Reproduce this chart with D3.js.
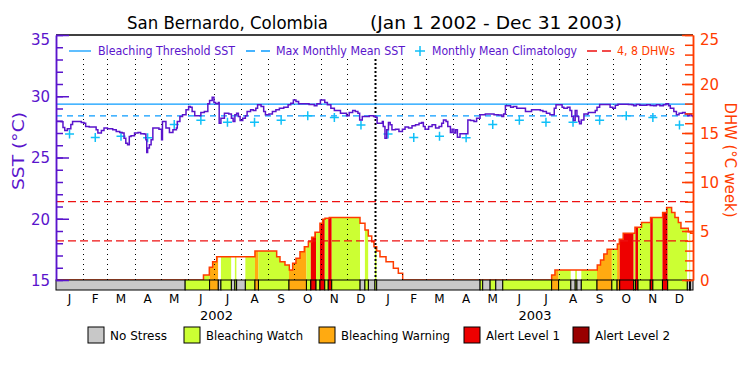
<!DOCTYPE html>
<html>
<head>
<meta charset="utf-8">
<script src="https://cdn.jsdelivr.net/npm/d3@7"></script>
<style>
body { margin: 0; background: #fff; }
svg { display: block; }
text { font-family: 'DejaVu Sans', sans-serif; }
</style>
</head>
<body>
<div id="chart"></div>
<script>
// SST (daily, stepped) - day offset from Jan 1 2002 and value in deg C
var sstDays = [0, 6, 8, 10, 13, 17, 19, 29, 32, 34, 38, 46, 48, 52, 55, 59, 65, 69, 73, 76, 78, 80, 82, 84, 86, 90, 94, 97, 101, 103, 104, 105, 107, 109, 111, 118, 121, 122, 126, 130, 134, 138, 139, 142, 145, 149, 152, 154, 156, 159, 166, 170, 174, 176, 179, 181, 183, 186,
  187, 189, 193, 198, 201, 203, 205, 207, 209, 211, 214, 217, 219, 223, 226, 229, 231, 235, 238, 240, 244, 248, 252, 256, 261, 266, 269, 272, 275, 278, 290, 296, 299, 303, 308, 311, 315, 319, 326, 333, 336, 340, 343, 346, 348, 351, 359, 364,
  366, 368, 374, 375, 377, 379, 381, 383, 385, 389, 393, 397, 400, 404, 408, 412, 416, 419, 421, 423, 427, 431, 435, 439, 442, 444, 447, 449, 452, 454, 456, 458, 460, 463, 472, 475, 479, 482, 486, 492, 502, 507, 511, 513, 515, 521, 524, 528, 538, 545,
  551, 555, 558, 562, 566, 571, 573, 580, 582, 586, 589, 591, 593, 595, 597, 599, 600, 602, 605, 610, 618, 620, 623, 635, 638, 641, 644, 656, 660, 662, 665, 669, 677, 681, 685, 688, 692, 696, 699, 702, 704, 708, 711, 714, 718, 721, 724, 726, 728, 730];
var sstValues = [27.94, 27.91, 27.45, 27.2, 27.35, 27.7, 27.94, 27.86, 27.8, 27.53, 27.48, 27.26, 26.99, 27.21, 27.4, 27.34, 27.26, 27.13, 27.04, 26.99, 26.58, 26.17, 26.04, 26.72, 26.77, 26.99, 27.04, 26.93, 26.91, 26.45, 25.41, 25.77, 26.04, 26.45, 27.4, 27.31, 26.45, 27.94, 27.4, 27.04, 27.26, 27.4, 27.94, 28.35, 28.48, 28.89, 29.16, 29.11, 28.75, 28.4, 28.67, 28.75, 29.38, 29.65, 29.92, 29.49, 29.38, 29.49,
  27.8, 28.21, 28.62, 28.56, 28.21, 27.94, 28.48, 28.62, 28.35, 28.02, 28.21, 28.4, 28.75, 28.89, 28.84, 29.03, 29.3, 29.16, 28.75, 28.48, 28.56, 28.75, 28.89, 29.03, 29.11, 29.3, 29.43, 29.7, 29.57, 29.38, 29.32, 29.22, 29.38, 29.7, 29.49, 29.3, 29.03, 28.84, 28.62, 28.4, 28.67, 28.84, 28.75, 28.62, 28.07, 28.35, 28.4, 28.35,
  28.29, 27.8, 27.94, 27.53, 26.58, 27.26, 27.86, 27.67, 27.26, 27.31, 27.13, 27.31, 27.48, 27.4, 27.59, 27.67, 27.8, 27.86, 27.53, 27.31, 27.53, 27.67, 27.4, 27.53, 27.8, 28.07, 27.94, 27.53, 27.04, 27.31, 26.99, 27.26, 26.66, 26.93, 28.07, 28.02, 27.94, 28.21, 28.48, 28.56, 28.48, 28.46, 28.35, 28.56, 29.22, 29.11, 29.16, 29.03, 28.75, 28.89,
  28.89, 28.84, 28.75, 28.62, 28.48, 29.03, 29.3, 29.11, 29.03, 29.11, 28.84, 28.35, 28.02, 28.84, 28.35, 27.94, 27.75, 28.07, 28.56, 28.67, 28.84, 29.11, 29.32, 29.11, 29.03, 29.27, 29.35, 29.32, 29.3, 29.22, 29.32, 29.27, 29.3, 29.24, 29.22, 29.3, 29.22, 29.3, 29.38, 29.22, 29.03, 28.75, 28.48, 28.62, 28.67, 28.56, 28.4, 28.56, 28.4, 28.29];

// monthly mean climatology, Jan..Dec
var climValues = [26.91, 26.64, 26.74, 26.62, 27.69, 28.04, 27.88, 27.88, 28.05, 28.40, 28.26, 27.65];
var mmmSst = 28.40;
var thresholdSst = 29.35;
var dhwRefLevels = [4, 8];

// degree heating weeks (stepped)
var dhwDays = [0, 169, 175.7, 179.5, 184.1, 228, 252.9, 256.7, 262.4, 267.4, 271.2, 275, 279.6, 284.6, 289.2, 293, 296.8, 302.5, 305.6, 308.3, 313.2, 348.4, 354.1, 357.9, 361.8, 364.4, 367.5, 371.3, 378.2, 386.6, 392.3, 397.3,
  568, 571.8, 620.3, 624, 627.8, 631.6, 643.3, 645.6, 650, 663.5, 671, 681.4, 695.2, 699.8, 705.5, 709.3, 713.2, 716.2, 724.6, 727.3, 730];
var dhwValues = [0, 0.51, 1.29, 1.87, 2.38, 2.96, 2.38, 1.87, 1.53, 1.02, 1.7, 2.21, 2.89, 3.4, 3.91, 4.35, 4.86, 5.78, 6.19, 6.29, 6.39, 5.78, 5.1, 4.49, 3.91, 3.4, 2.96, 2.38, 1.87, 1.19, 0.68, 0,
  0.51, 1.02, 1.53, 2.04, 2.65, 3.13, 3.67, 4.15, 4.76, 5.37, 5.88, 6.39, 6.9, 7.41, 6.9, 6.39, 5.88, 5.27, 4.93, 4.76, 4.76];

// bleaching alert status runs: start day and level (0 none .. 4 alert 2)
var statusStart = [0, 148, 176, 186, 189, 201, 205, 207, 217, 228, 232, 267, 287, 292, 298, 302.5, 308, 312, 316, 348.5, 354, 358, 365.5, 367.5,
  486, 489, 497.5, 504, 512, 568, 576, 590, 595, 597, 602, 620, 637, 643, 646, 662, 664, 667, 681, 684, 695, 701, 723.5, 726, 727];
var statusLevel = [0, 1, 2, 0, 1, 0, 1, 0, 1, 2, 1, 2, 1, 3, 1, 3, 1, 3, 1, 0, 1, 0, 1, 0,
  1, 0, 1, 0, 1, 2, 1, 0, 1, 0, 1, 2, 1, 2, 3, 1, 3, 1, 3, 1, 3, 1, 0, 1, 0];
var statusNames = ["No Stress", "Bleaching Watch", "Bleaching Warning", "Alert Level 1", "Alert Level 2"];
var statusColors = ["#c8c8c8", "#ccff33", "#ffaa11", "#ee0000", "#990000"];

var monthLetters = ["J", "F", "M", "A", "M", "J", "J", "A", "S", "O", "N", "D"];
var yearLabels = ["2002", "2003"];

var purple = "#5a14cc", orange = "#ff3c00", sky = "#0a9cff", cyan = "#10c0f8";

var W = 750, H = 375,
    pLeft = 56, pRight = 693, pTop = 35, pBase = 280, barH = 10;

var svg = d3.select("#chart").append("svg").attr("width", W).attr("height", H);

var t0 = Date.UTC(2002, 0, 1);
function day(d) { return new Date(t0 + d * 864e5); }

var x = d3.scaleUtc().domain([day(0), day(730)]).range([pLeft, pRight]);
var ySst = d3.scaleLinear().domain([15, 35]).range([pBase, pTop]);
var yDhw = d3.scaleLinear().domain([0, 25]).range([pBase, pTop]);

// title
svg.append("text").attr("x", 127).attr("y", 29).attr("font-size", 17)
  .attr("textLength", 201).attr("lengthAdjust", "spacingAndGlyphs").text("San Bernardo, Colombia");
svg.append("text").attr("x", 370).attr("y", 29).attr("font-size", 17)
  .attr("textLength", 252).attr("lengthAdjust", "spacingAndGlyphs").text("(Jan 1 2002 - Dec 31 2003)");

// DHW fill coloured by status
var dhwData = dhwDays.map(function(d, i) { return { t: day(d), v: dhwValues[i] }; });
var area = d3.area().curve(d3.curveStepAfter)
  .x(function(d) { return x(d.t); }).y0(yDhw(0)).y1(function(d) { return yDhw(d.v); });
svg.append("clipPath").attr("id", "dhwclip").append("path").attr("d", area(dhwData));

var runs = statusStart.map(function(s, i) {
  return { s: s, e: i + 1 < statusStart.length ? statusStart[i + 1] : 730, l: statusLevel[i] };
});
svg.append("g").attr("clip-path", "url(#dhwclip)")
  .selectAll("rect").data(runs).join("rect")
  .attr("x", function(d) { return x(day(d.s)); })
  .attr("width", function(d) { return x(day(d.e)) - x(day(d.s)); })
  .attr("y", pTop).attr("height", pBase - pTop)
  .attr("fill", function(d) { return d.l === 0 ? "#fff" : statusColors[d.l]; });

var dhwLine = d3.line().curve(d3.curveStepAfter)
  .x(function(d) { return x(d.t); }).y(function(d) { return yDhw(d.v); });
svg.append("path").attr("d", dhwLine(dhwData)).attr("fill", "none")
  .attr("stroke", orange).attr("stroke-width", 1.5);

// month grid
var months = d3.utcMonth.range(day(1), day(730));
svg.append("g").selectAll("line").data(months).join("line")
  .attr("x1", function(d) { return Math.round(x(d)) + 0.5; })
  .attr("x2", function(d) { return Math.round(x(d)) + 0.5; })
  .attr("y1", 59).attr("y2", pBase)
  .attr("stroke", "#000")
  .attr("stroke-width", function(d) { return d.getUTCMonth() === 0 ? 2 : 1; })
  .attr("stroke-dasharray", function(d) { return d.getUTCMonth() === 0 ? "2,2" : "1,4"; });

// reference lines
svg.append("g").selectAll("line").data(dhwRefLevels).join("line")
  .attr("x1", pLeft).attr("x2", pRight)
  .attr("y1", function(d) { return yDhw(d); }).attr("y2", function(d) { return yDhw(d); })
  .attr("stroke", "#ee1111").attr("stroke-width", 1.3).attr("stroke-dasharray", "8,4");

svg.append("line").attr("x1", pLeft).attr("x2", pRight)
  .attr("y1", ySst(thresholdSst)).attr("y2", ySst(thresholdSst))
  .attr("stroke", sky).attr("stroke-width", 1.3);
svg.append("line").attr("x1", pLeft).attr("x2", pRight)
  .attr("y1", ySst(mmmSst)).attr("y2", ySst(mmmSst))
  .attr("stroke", sky).attr("stroke-width", 1.3).attr("stroke-dasharray", "6,5");

// climatology crosses at mid-month, both years
var climPts = [];
d3.utcMonth.range(day(0), day(730)).forEach(function(m) {
  var mid = new Date((m.getTime() + d3.utcMonth.offset(m, 1).getTime()) / 2);
  climPts.push({ t: mid, v: climValues[m.getUTCMonth()] });
});
svg.append("g").selectAll("path").data(climPts).join("path")
  .attr("d", function(d) {
    var cx = x(d.t), cy = ySst(d.v), r = 4.5;
    return "M" + (cx - r) + "," + cy + "H" + (cx + r) + "M" + cx + "," + (cy - r) + "V" + (cy + r);
  })
  .attr("stroke", cyan).attr("stroke-width", 1.5).attr("fill", "none");

// SST line
var sstData = sstDays.map(function(d, i) { return { t: day(d), v: sstValues[i] }; });
var sstLine = d3.line().curve(d3.curveStepAfter)
  .x(function(d) { return x(d.t); }).y(function(d) { return ySst(d.v); });
svg.append("path").attr("d", sstLine(sstData)).attr("fill", "none")
  .attr("stroke", purple).attr("stroke-width", 1.5);

// status bar
svg.append("g").selectAll("rect").data(runs).join("rect")
  .attr("x", function(d) { return x(day(d.s)); })
  .attr("width", function(d) { return x(day(d.e)) - x(day(d.s)); })
  .attr("y", pBase).attr("height", barH)
  .attr("fill", function(d) { return statusColors[d.l]; })
  .attr("stroke", "#000").attr("stroke-width", 1);

// top border
svg.append("line").attr("x1", pLeft).attr("x2", pRight).attr("y1", pTop).attr("y2", pTop)
  .attr("stroke", "#000").attr("stroke-width", 1.5);

// left axis (SST)
var gl = svg.append("g").attr("transform", "translate(" + pLeft + ",0)");
gl.call(d3.axisLeft(ySst).tickValues(d3.range(15, 36)).tickSizeInner(-7).tickSizeOuter(0).tickFormat(""));
gl.append("g").call(d3.axisLeft(ySst).tickValues([15, 20, 25, 30, 35]).tickSizeInner(-13).tickSizeOuter(0).tickPadding(6));
gl.selectAll("path, line").attr("stroke", purple).attr("stroke-width", 1.5);
gl.selectAll("text").attr("fill", purple).attr("font-size", 15)
  .attr("font-family", "'DejaVu Sans', sans-serif")
  .attr("dy", function(d) { return d === 35 ? "0.65em" : "0.35em"; });
svg.append("text").attr("transform", "translate(24,151) rotate(-90)")
  .attr("text-anchor", "middle").attr("font-size", 15).attr("fill", purple)
  .attr("textLength", 78).attr("lengthAdjust", "spacingAndGlyphs").text("SST (°C)");

// right axis (DHW)
var gr = svg.append("g").attr("transform", "translate(" + pRight + ",0)");
gr.call(d3.axisRight(yDhw).tickValues(d3.range(0, 26)).tickSizeInner(-8).tickSizeOuter(0).tickFormat(""));
gr.append("g").call(d3.axisRight(yDhw).tickValues([0, 5, 10, 15, 20, 25]).tickSizeInner(-11).tickSizeOuter(0).tickPadding(7));
gr.selectAll("path, line").attr("stroke", orange).attr("stroke-width", 1.5);
gr.selectAll("text").attr("fill", orange).attr("font-size", 15)
  .attr("font-family", "'DejaVu Sans', sans-serif")
  .attr("dy", function(d) { return d === 25 ? "0.65em" : "0.35em"; });
svg.append("text").attr("transform", "translate(725,160) rotate(90)")
  .attr("text-anchor", "middle").attr("font-size", 15).attr("fill", orange)
  .attr("textLength", 115).attr("lengthAdjust", "spacingAndGlyphs").text("DHW (°C week)");

// month and year labels
svg.append("g").selectAll("text").data(d3.utcMonth.range(day(0), day(730))).join("text")
  .attr("x", function(d) { return x(new Date((d.getTime() + d3.utcMonth.offset(d, 1).getTime()) / 2)); })
  .attr("y", 303).attr("text-anchor", "middle").attr("font-size", 12)
  .text(function(d) { return monthLetters[d.getUTCMonth()]; });
svg.append("g").selectAll("text").data(yearLabels).join("text")
  .attr("x", function(d, i) { return x(day(184 + 365 * i)); })
  .attr("y", 320).attr("text-anchor", "middle").attr("font-size", 13)
  .text(function(d) { return d; });

// top legend
var lg = svg.append("g");
lg.append("line").attr("x1", 69).attr("x2", 91).attr("y1", 51).attr("y2", 51).attr("stroke", sky).attr("stroke-width", 1.3);
lg.append("line").attr("x1", 246).attr("x2", 270).attr("y1", 51).attr("y2", 51).attr("stroke", sky)
  .attr("stroke-width", 1.3).attr("stroke-dasharray", "9,6");
lg.append("path").attr("d", "M415,51H425M420,46V56").attr("stroke", cyan).attr("stroke-width", 1.5);
lg.append("line").attr("x1", 587).attr("x2", 611).attr("y1", 51).attr("y2", 51).attr("stroke", "#ee1111")
  .attr("stroke-width", 1.3).attr("stroke-dasharray", "10,5");
var topLegend = [
  { x: 98, w: 137, t: "Bleaching Threshold SST", c: purple },
  { x: 276, w: 129, t: "Max Monthly Mean SST", c: purple },
  { x: 432, w: 145, t: "Monthly Mean Climatology", c: purple },
  { x: 617, w: 58, t: "4, 8 DHWs", c: orange }
];
lg.selectAll("text").data(topLegend).join("text")
  .attr("x", function(d) { return d.x; }).attr("y", 55).attr("font-size", 12)
  .attr("textLength", function(d) { return d.w; }).attr("lengthAdjust", "spacingAndGlyphs")
  .attr("fill", function(d) { return d.c; }).text(function(d) { return d.t; });

// bottom legend
var boxX = [88, 184, 319, 464, 573];
var textW = [57, 97, 109, 74, 75];
var bl = svg.append("g").selectAll("g").data(statusNames).join("g")
  .attr("transform", function(d, i) { return "translate(" + boxX[i] + ",327)"; });
bl.append("rect").attr("width", 16).attr("height", 16)
  .attr("fill", function(d, i) { return statusColors[i]; }).attr("stroke", "#000");
bl.append("text").attr("x", 22).attr("y", 13).attr("font-size", 13)
  .attr("textLength", function(d, i) { return textW[i]; }).attr("lengthAdjust", "spacingAndGlyphs")
  .text(function(d) { return d; });
</script>
</body>
</html>
